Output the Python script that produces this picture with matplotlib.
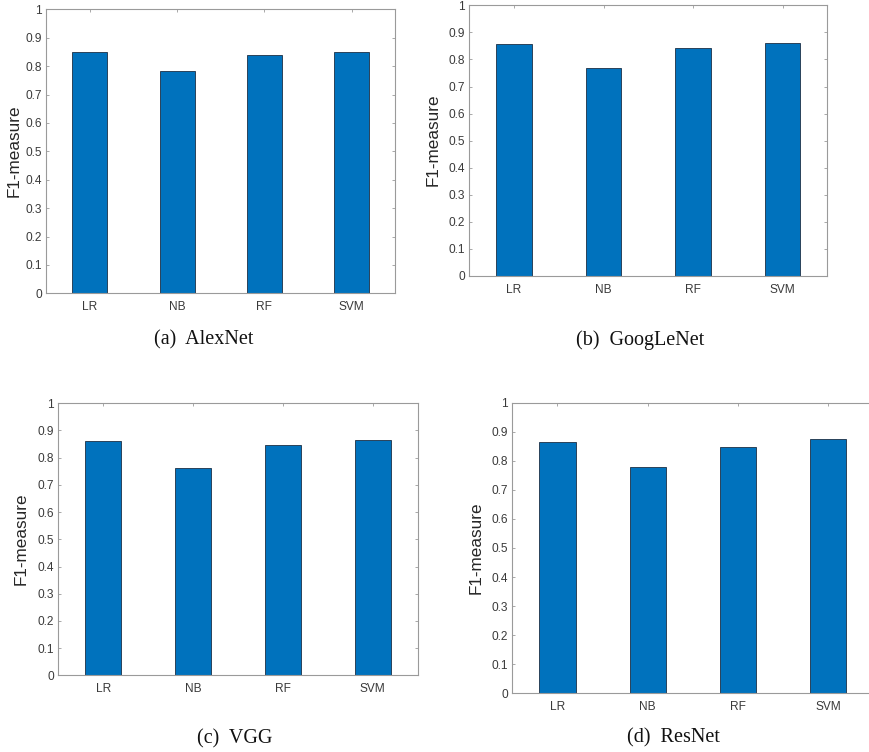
import matplotlib
matplotlib.use("Agg")
import matplotlib.pyplot as plt

# Classifiers and F1 scores for each CNN feature extractor
classifiers = ["LR", "NB", "RF", "SVM"]
alexnet_f1 = [0.848, 0.782, 0.840, 0.849]
googlenet_f1 = [0.857, 0.767, 0.841, 0.860]
vgg_f1 = [0.860, 0.761, 0.846, 0.865]
resnet_f1 = [0.866, 0.780, 0.849, 0.874]
yticks = [0, 0.1, 0.2, 0.3, 0.4, 0.5, 0.6, 0.7, 0.8, 0.9, 1]
ytick_labels = ["0", "0.1", "0.2", "0.3", "0.4", "0.5", "0.6", "0.7", "0.8", "0.9", "1"]
captions = ["(a)  AlexNet", "(b)  GoogLeNet", "(c)  VGG", "(d)  ResNet"]

W, H = 869, 752
fig = plt.figure(figsize=(W / 100, H / 100), dpi=100)

BAR = "#0072BD"
EDGE = "#1c2f45"
SPINE = "#9a9a9a"
TXT = "#3a3a3a"
SANS = ["Liberation Sans", "DejaVu Sans"]
SERIF = ["Liberation Serif", "DejaVu Serif"]

# panel boxes in pixels: left, right, top, bottom
boxes = [
    (46.3, 395.3, 9.3, 293.3),
    (469.3, 827.3, 5.3, 276.0),
    (58.3, 417.7, 403.3, 675.3),
    (512.3, 873.5, 402.7, 693.3),
]
ylabel_pos = [(14, 151), (433, 140), (21.5, 539), (476.5, 548)]
caption_pos = [(204, 340), (640, 340), (234.5, 738.5), (673, 738)]
datasets = [alexnet_f1, googlenet_f1, vgg_f1, resnet_f1]


def fx(px):
    return px / W


def fy(py):
    return 1 - py / H


for (l, r, t, b), vals, (lx, ly), (cx, cy), cap in zip(
        boxes, datasets, ylabel_pos, caption_pos, captions):
    ax = fig.add_axes([fx(l), fy(b), fx(r) - fx(l), fy(t) - fy(b)])
    x = list(range(1, len(classifiers) + 1))
    ax.bar(x, vals, width=0.4, color=BAR, edgecolor=EDGE, linewidth=0.6, zorder=2)
    ax.set_xlim(0.5, 4.5)
    ax.set_ylim(0, 1)
    ax.set_xticks(x)
    ax.set_xticklabels(classifiers, fontfamily=SANS, fontsize=8.6, color=TXT)
    ax.set_yticks(yticks)
    ax.set_yticklabels(ytick_labels, fontfamily=SANS, fontsize=8.6, color=TXT)
    ax.tick_params(axis="both", direction="in", length=2.3, width=0.6,
                   color=SPINE, top=True, right=True)
    ax.tick_params(axis="x", pad=5.5)
    ax.tick_params(axis="y", pad=3)
    for s in ax.spines.values():
        s.set_color(SPINE)
        s.set_linewidth(0.8)
    fig.text(fx(lx), fy(ly), "F1-measure", rotation=90, ha="center", va="center",
             fontfamily=SANS, fontsize=12.3, color="#262626")
    fig.text(fx(cx), fy(cy), cap, ha="center", va="center",
             fontfamily=SERIF, fontsize=14.5, color="#111111")

fig.savefig("out.png", dpi=100)
